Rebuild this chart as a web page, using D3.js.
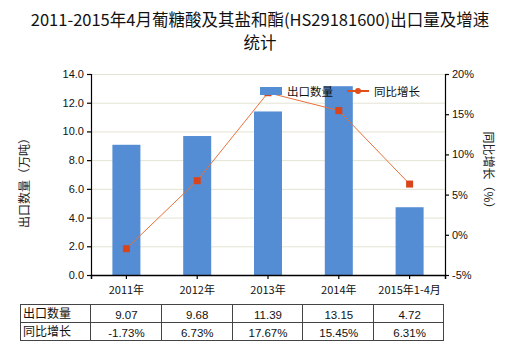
<!DOCTYPE html>
<html><head><meta charset="utf-8">
<script src="https://cdn.jsdelivr.net/npm/d3@7"></script>
<style>
html,body{margin:0;padding:0;background:#fff;}
text{font-family:"Noto Sans CJK SC","Noto Sans",sans-serif;}
</style></head>
<body>
<svg id="c" width="520" height="350"></svg>
<script>
const categories = ["2011年","2012年","2013年","2014年","2015年1-4月"];
const exportQty = [9.07, 9.68, 11.39, 13.15, 4.72];
const growth = [-1.73, 6.73, 17.67, 15.45, 6.31];
const leftTicks = [0,2,4,6,8,10,12,14];
const rightTicks = [-5,0,5,10,15,20];
const titleLines = ["2011-2015年4月葡糖酸及其盐和酯(HS29181600)出口量及增速","统计"];
const seriesNames = ["出口数量","同比增长"];
const yLabelLeft = "出口数量（万吨）";
const yLabelRight = "同比增长（%）";

const svg = d3.select("#c");
const L = 91, R = 445, T = 74, B = 275;
const xb = d3.scaleBand().domain(categories).range([L, R]);
const y = d3.scaleLinear().domain([0,14]).range([B, T]);
const y2 = d3.scaleLinear().domain([-5,20]).range([B, T]);

// title
svg.append("g").selectAll("text").data(titleLines).join("text")
  .attr("x", 260).attr("y", (d,i)=>26+i*23).attr("text-anchor","middle")
  .attr("font-size", 16.5).attr("fill","#111").text(d=>d);

// gridlines
svg.append("g").selectAll("line").data(leftTicks.slice(1)).join("line")
  .attr("x1", L).attr("x2", R).attr("y1", d=>y(d)+0.5).attr("y2", d=>y(d)+0.5)
  .attr("stroke", "#e3e3d2").attr("stroke-width", 1);

// bars
svg.append("g").selectAll("rect").data(exportQty).join("rect")
  .attr("x", (d,i)=>xb(categories[i]) + xb.bandwidth()/2 - 14)
  .attr("width", 28)
  .attr("y", d=>y(d)).attr("height", d=>B - y(d))
  .attr("fill", "#548dd4");

// line
const line = d3.line().x((d,i)=>xb(categories[i]) + xb.bandwidth()/2).y(d=>y2(d));
svg.append("path").datum(growth).attr("d", line).attr("fill","none")
  .attr("stroke","#e8703a").attr("stroke-width",1);
svg.append("g").selectAll("rect").data(growth).join("rect")
  .attr("x",(d,i)=>xb(categories[i]) + xb.bandwidth()/2 - 3.5)
  .attr("y", d=>y2(d)-3.5).attr("width",7).attr("height",7)
  .attr("fill","#d9441a");

// axes
const fontAxis = "Liberation Sans, Arial, sans-serif";
const gl = svg.append("g").attr("transform",`translate(${L},0)`)
  .call(d3.axisLeft(y).tickValues(leftTicks).tickFormat(d3.format(".1f")).tickSizeOuter(0).tickSize(4));
const gr = svg.append("g").attr("transform",`translate(${R},0)`)
  .call(d3.axisRight(y2).tickValues(rightTicks).tickFormat(d=>d+"%").tickSizeOuter(0).tickSize(4));
const gx = svg.append("g").attr("transform",`translate(0,${B})`)
  .call(d3.axisBottom(xb).tickSizeOuter(0).tickSize(4).tickFormat(""));
[gl,gr,gx].forEach(g=>{
  g.selectAll("path,line").attr("stroke","#000").attr("stroke-width",1.2);
  g.selectAll("text").attr("font-size",11).attr("fill","#111").style("font-family",fontAxis);
});
gx.select(".domain").attr("stroke-width",1.5);

// category labels
svg.append("g").selectAll("text").data(categories).join("text")
  .attr("x", d=>xb(d)+xb.bandwidth()/2).attr("y", 294).attr("text-anchor","middle")
  .attr("font-size",11).attr("fill","#111").text(d=>d);

// axis titles
svg.append("text").attr("transform","translate(29,180) rotate(-90)").attr("text-anchor","middle")
  .attr("font-size",12).attr("fill","#222").text(yLabelLeft);
svg.append("text").attr("transform","translate(484,173) rotate(90)").attr("text-anchor","middle")
  .attr("font-size",12).attr("fill","#222").text(yLabelRight);

// legend
svg.append("rect").attr("x",260).attr("y",87).attr("width",22).attr("height",8).attr("fill","#548dd4");
svg.append("text").attr("x",287).attr("y",95.5).attr("font-size",11.5).attr("fill","#111").text(seriesNames[0]);
svg.append("line").attr("x1",347).attr("x2",369).attr("y1",91).attr("y2",91).attr("stroke","#e04e1c").attr("stroke-width",2);
svg.append("circle").attr("cx",358).attr("cy",91).attr("r",3).attr("fill","#e04e1c");
svg.append("text").attr("x",374).attr("y",95.5).attr("font-size",11.5).attr("fill","#111").text(seriesNames[1]);

// table
const tL = 20, tT = 304, rowH = 18;
const rows = [[seriesNames[0], exportQty.map(d=>d.toFixed(2))],[seriesNames[1], growth.map(d=>d.toFixed(2)+"%")]];
const tg = svg.append("g");
tg.append("rect").attr("x",tL+0.5).attr("y",tT+0.5).attr("width",R-tL-2).attr("height",rowH*2)
  .attr("fill","none").attr("stroke","#444");
tg.append("line").attr("x1",tL).attr("x2",R-1.5).attr("y1",tT+rowH+0.5).attr("y2",tT+rowH+0.5).attr("stroke","#444");
tg.selectAll("line.v").data(categories).join("line").attr("class","v")
  .attr("x1",d=>Math.round(xb(d))-0.5).attr("x2",d=>Math.round(xb(d))-0.5)
  .attr("y1",tT).attr("y2",tT+rowH*2).attr("stroke","#444");
rows.forEach((r,ri)=>{
  tg.append("text").attr("x",tL+3).attr("y",tT+rowH*ri+14).attr("font-size",12).attr("fill","#111").text(r[0]);
  tg.selectAll(null).data(r[1]).join("text")
    .attr("x",(d,i)=>xb(categories[i])+xb.bandwidth()/2).attr("y",tT+rowH*ri+14.5)
    .attr("text-anchor","middle").attr("font-size",11.5).attr("fill","#111")
    .style("font-family",fontAxis).text(d=>d);
});
</script>
</body></html>
